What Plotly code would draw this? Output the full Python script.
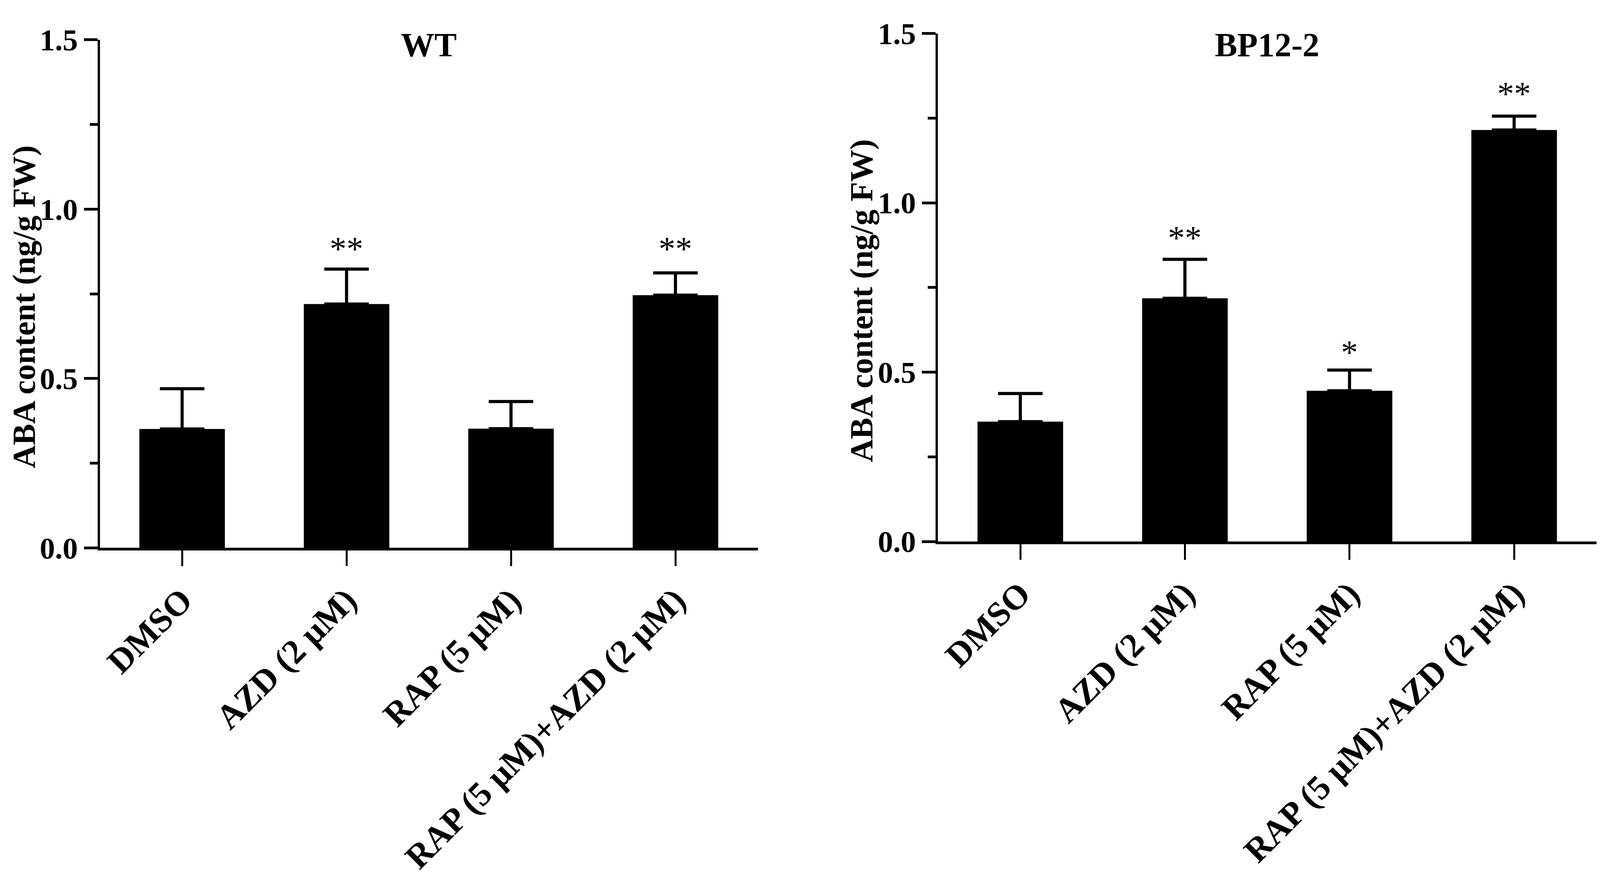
import plotly.graph_objects as go

# positions measured on the 4933x2255 reference; the page viewport comes out
# about 4096 px wide and 2255 px tall, so x values are scaled by SX
RW, RH = 4933, 2255
SX = 4096 / RW
PAD = 8                      # default body margin of the page
W, H = 4096 - 2 * PAD, RH - 2 * PAD

categories = ['DMSO', 'AZD (2 μM)', 'RAP (5 μM)', 'RAP (5 μM)+AZD (2 μM)']

# WT panel
wt_mean = [0.351, 0.720, 0.352, 0.746]
wt_sem = [0.119, 0.103, 0.080, 0.066]
wt_marks = ['', '**', '', '**']
wt_mark_y = [None, 0.899, None, 0.899]

# BP12-2 panel
bp_mean = [0.354, 0.718, 0.445, 1.215]
bp_sem = [0.083, 0.115, 0.061, 0.041]
bp_marks = ['', '**', '*', '**']
bp_mark_y = [None, 0.913, 0.574, 1.338]

panel_titles = ['WT', 'BP12-2']
y_title = 'ABA content (ng/g FW)'
y_ticks = [0.0, 0.5, 1.0, 1.5]

FONT = 'Liberation Serif'


def fx(p):
    """reference x pixel -> paper fraction"""
    return (p * SX - PAD) / W


def fy(p):
    """reference y pixel -> paper fraction (from bottom)"""
    return 1 - (p - PAD) / H


# plot areas in reference pixels: (left, right, top, bottom)
areas = [(308, 2336, 61, 1414), (2892, 4922, 44, 1397)]
ytitle_pos = [(74, 772), (2657, 756)]

panels = [(wt_mean, wt_sem, wt_marks, wt_mark_y),
          (bp_mean, bp_sem, bp_marks, bp_mark_y)]

fig = go.Figure()
annotations = []
layout = {}

for i, (mean, sem, marks, mark_y) in enumerate(panels):
    n = '' if i == 0 else str(i + 1)
    xa, ya = 'x' + n, 'y' + n
    left, right, top, bottom = areas[i]

    fig.add_trace(go.Bar(
        x=categories, y=mean, xaxis=xa, yaxis=ya,
        width=0.52, marker=dict(color='black', line=dict(width=0)),
        error_y=dict(type='data', array=sem, arrayminus=[0] * len(sem),
                     symmetric=False, color='black', thickness=8, width=57),
        showlegend=False))

    layout['xaxis' + n] = dict(
        domain=[fx(left), fx(right)], anchor=ya,
        type='category', range=[-0.5, 3.5],
        showline=True, linecolor='black', linewidth=7,
        ticks='outside', ticklen=40, tickwidth=5, tickcolor='black',
        tickangle=-45, showgrid=False, zeroline=False,
        tickfont=dict(family=FONT, size=88, color='black', weight='bold'))
    layout['yaxis' + n] = dict(
        domain=[fy(bottom), fy(top)], anchor=xa,
        range=[0, 1.5], tickvals=y_ticks, ticktext=['%.1f' % v for v in y_ticks],
        showline=True, linecolor='black', linewidth=6,
        ticks='outside', ticklen=35, tickwidth=7, tickcolor='black',
        minor=dict(dtick=0.25, tick0=0, ticks='outside', ticklen=20,
                   tickwidth=7, tickcolor='black', showgrid=False),
        showgrid=False, zeroline=False,
        tickfont=dict(family=FONT, size=78, color='black', weight='bold'))

    # panel title
    annotations.append(dict(
        text=panel_titles[i], xref='paper', yref='paper',
        x=fx((left + right) / 2), y=fy(75), xanchor='center', yanchor='middle',
        showarrow=False, font=dict(family=FONT, size=86, color='black', weight='bold')))

    # y axis title
    tx, ty = ytitle_pos[i]
    annotations.append(dict(
        text=y_title, xref='paper', yref='paper', textangle=-90,
        x=fx(tx), y=fy(ty), xanchor='center', yanchor='middle',
        showarrow=False, font=dict(family=FONT, size=82, color='black', weight='bold')))

    # significance marks
    for cat, m, my in zip(categories, marks, mark_y):
        if m:
            annotations.append(dict(
                text=m, xref=xa, yref=ya, x=cat, y=my, yshift=-14,
                xanchor='center', yanchor='middle', showarrow=False,
                font=dict(family=FONT, size=86, color='black')))

fig.update_layout(
    width=W, height=H,
    margin=dict(l=0, r=0, t=0, b=0),
    paper_bgcolor='white', plot_bgcolor='white',
    annotations=annotations,
    **layout)

fig.write_html('out.html')
